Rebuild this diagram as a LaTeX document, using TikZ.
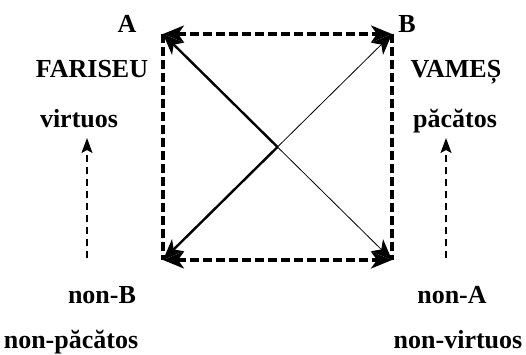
\documentclass[tikz,border=0pt]{standalone}
\usepackage{fontspec}
\setmainfont{Liberation Serif}
\usetikzlibrary{arrows.meta}

\begin{document}
\begin{tikzpicture}[
  x=1pt,y=-1pt,
  font=\bfseries\fontsize{26}{30}\selectfont,
  >={Stealth[length=21pt,width=17pt,inset=6pt]},
  side/.style={line width=3.2pt,dash pattern=on 9pt off 4pt},
  hint/.style={->,line width=1.6pt,dash pattern=on 7pt off 5pt,
    >={Stealth[length=15pt,width=11pt,inset=3pt]}},
  thick diag/.style={line width=2.4pt},
  thin diag/.style={line width=0.8pt},
  word/.style={inner sep=0pt,anchor=base}
]
  \useasboundingbox (0,0) rectangle (526,355);

  % corners of the square
  \coordinate (ca) at (163,34);
  \coordinate (cb) at (392,34);
  \coordinate (cnb) at (163,260);
  \coordinate (cna) at (392,260);
  \coordinate (mid) at (277.5,147);

  \node[word] (la) at (127,33) {A};
  \node[word] (lb) at (407,33) {B};
  \node[word] (fariseu) at (92,78) {FARISEU};
  \node[word] (vames) at (456,78) {VAMEȘ};
  \node[word] (virtuos) at (79,128) {virtuos};
  \node[word] (pacatos) at (455,128) {păcătos};
  \node[word] (nonb) at (102,303) {non-B};
  \node[word] (nona) at (452,303) {non-A};
  \node[word] (nonpacatos) at (71,348) {non-păcătos};
  \node[word] (nonvirtuos) at (458,348) {non-virtuos};

  % dashed sides
  \draw[side,<->] (ca) -- (cb);
  \draw[side,<->] (cnb) -- (cna);
  \draw[side] (ca) -- (cnb);
  \draw[side] (cb) -- (cna);

  % diagonals
  \draw[thick diag,<-] (ca) -- (mid);
  \draw[thin diag,->] (mid) -- (cna);
  \draw[thick diag,<-] (cnb) -- (mid);
  \draw[thin diag,->] (mid) -- (cb);

  % side hints
  \coordinate (lbot) at (87,258);
  \coordinate (ltop) at (87,138);
  \coordinate (rbot) at (446,258);
  \coordinate (rtop) at (446,138);
  \draw[hint] (lbot) -- (ltop);
  \draw[hint] (rbot) -- (rtop);
\end{tikzpicture}
\end{document}
